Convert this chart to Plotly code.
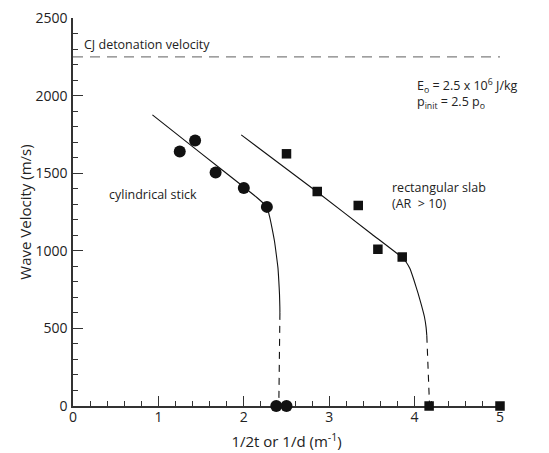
import plotly.graph_objects as go

# Data
cyl_x = [1.25, 1.43, 1.67, 2.00, 2.27, 2.38, 2.50]
cyl_y = [1640, 1710, 1505, 1405, 1283, 0, 0]
slab_x = [2.50, 2.86, 3.34, 3.57, 3.855, 4.17, 5.00]
slab_y = [1625, 1382, 1292, 1010, 960, 0, 0]

cyl_fit_x = [0.93, 1.50, 2.00, 2.15, 2.27, 2.30, 2.33, 2.36, 2.38, 2.40, 2.41, 2.418, 2.422, 2.423]
cyl_fit_y = [1876, 1628, 1411, 1345, 1283, 1225, 1148, 1060, 978, 890, 806, 720, 640, 600]
cyl_dash_x = [2.423, 2.41]
cyl_dash_y = [600, 0]

slab_fit_x = [1.97, 2.86, 3.50, 3.855, 3.90, 3.945, 3.99, 4.04, 4.08, 4.115, 4.135, 4.143]
slab_fit_y = [1747, 1379, 1107, 956, 928, 886, 815, 727, 650, 575, 505, 453]
slab_dash_x = [4.143, 4.175]
slab_dash_y = [453, 0]

cj_x = [0, 5]
cj_y = [2250, 2250]

FONT = "Open Sans"
TXT = "#222222"

fig = go.Figure()

fig.add_trace(go.Scatter(x=cj_x, y=cj_y, mode="lines",
                         line=dict(color="#808080", width=1.3, dash="10px,7px"),
                         hoverinfo="skip", showlegend=False))

for fx, fy in [(cyl_fit_x, cyl_fit_y), (slab_fit_x, slab_fit_y)]:
    fig.add_trace(go.Scatter(x=fx, y=fy, mode="lines",
                             line=dict(color="#111111", width=1.1, shape="spline", smoothing=0.4),
                             showlegend=False))
for dx, dy in [(cyl_dash_x, cyl_dash_y), (slab_dash_x, slab_dash_y)]:
    fig.add_trace(go.Scatter(x=dx, y=dy, mode="lines",
                             line=dict(color="#111111", width=1.1, dash="7px,6px"),
                             showlegend=False))

fig.add_trace(go.Scatter(x=cyl_x, y=cyl_y, mode="markers", name="cylindrical stick",
                         marker=dict(symbol="circle", size=12, color="#111111"),
                         cliponaxis=False, showlegend=False))
fig.add_trace(go.Scatter(x=slab_x, y=slab_y, mode="markers", name="rectangular slab",
                         marker=dict(symbol="square", size=9.5, color="#111111"),
                         cliponaxis=False, showlegend=False))

ann = [
    dict(x=0.11, y=2330, text="CJ detonation velocity", xanchor="left", yanchor="middle"),
    dict(x=4.01, y=2065, text="E<sub>o</sub> = 2.5 x 10<sup>6</sup> J/kg", xanchor="left", yanchor="middle"),
    dict(x=4.01, y=1955, text="p<sub>init</sub> = 2.5 p<sub>o</sub>", xanchor="left", yanchor="middle"),
    dict(x=0.40, y=1362, text="cylindrical stick", xanchor="left", yanchor="middle"),
    dict(x=3.71, y=1355, text="rectangular slab<br>(AR  > 10)", xanchor="left", yanchor="middle",
         align="left"),
]
for a in ann:
    a.update(xref="x", yref="y", showarrow=False, font=dict(family=FONT, size=12.5, color=TXT))

# the page body adds an 8px offset, so margins are compensated for it
fig.update_layout(
    width=549, height=453,
    margin=dict(l=65, r=57, t=10, b=55),
    paper_bgcolor="white", plot_bgcolor="white",
    font=dict(family=FONT, color=TXT),
    annotations=ann,
    showlegend=False,
)
fig.update_xaxes(
    range=[0, 5], dtick=1, tick0=0, automargin=False,
    showgrid=False, zeroline=False,
    showline=True, linecolor="#333333", linewidth=1.5,
    ticks="inside", ticklen=10, tickwidth=1.2, tickcolor="#333333",
    minor=dict(dtick=0.2, ticks="inside", ticklen=5, tickwidth=1, tickcolor="#333333"),
    tickfont=dict(family=FONT, size=14, color=TXT),
    ticklabelstandoff=-3, ticklabeloverflow="allow",
    title=dict(text="1/2t or 1/d (m<sup>-1</sup>)", font=dict(family=FONT, size=15, color=TXT), standoff=12),
    layer="below traces",
)
fig.update_yaxes(
    range=[0, 2500], dtick=500, tick0=0, automargin=False,
    showgrid=False, zeroline=False,
    showline=True, linecolor="#333333", linewidth=1.5,
    ticks="inside", ticklen=10, tickwidth=1.2, tickcolor="#333333",
    minor=dict(dtick=100, ticks="inside", ticklen=5, tickwidth=1, tickcolor="#333333"),
    tickfont=dict(family=FONT, size=14, color=TXT),
    ticklabelstandoff=1, ticklabeloverflow="allow",
    title=dict(text="Wave Velocity (m/s)", font=dict(family=FONT, size=15, color=TXT), standoff=0),
    layer="below traces",
)

fig.write_html("out.html")
